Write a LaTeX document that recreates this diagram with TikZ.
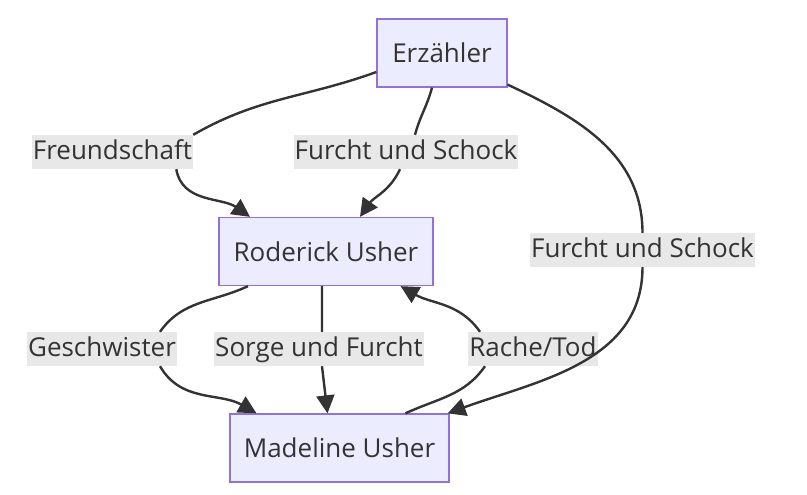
\documentclass[tikz,border=0pt]{standalone}
\usepackage{fontspec}
\setmainfont{Open Sans}
\usetikzlibrary{arrows.meta}
\definecolor{boxfill}{HTML}{ECECFF}
\definecolor{boxline}{HTML}{9370DB}
\definecolor{ink}{HTML}{333333}
\definecolor{lblfill}{HTML}{E8E8E8}

\begin{document}
\begin{tikzpicture}[x=1pt,y=1pt,
	font=\fontsize{26}{31}\selectfont,
	box/.style={rectangle, draw=boxline, fill=boxfill, line width=1.3pt, minimum height=68pt, text=ink},
	lbl/.style={fill=lblfill, text=ink, inner xsep=1pt, inner ysep=4pt, text height=20pt, text depth=6pt},
	line/.style={draw=ink, line width=2.4pt},
	flow/.style={line, -{Triangle[length=18pt,width=18pt]}}]
\useasboundingbox (0,0) rectangle (807,-495);
\node (erz) at (442,-53) [box, minimum width=130pt] {Erzähler};
\node (rod) at (326,-251.5) [box, minimum width=214pt] {Roderick Usher};
\node (mad) at (339.5,-448) [box, minimum width=219pt] {Madeline Usher};
	\node (freund) at (112.5,-152) [lbl] {Freundschaft};
	\node (furcht1) at (406,-152) [lbl] {Furcht und Schock};
	\node (furcht2) at (642.5,-250) [lbl] {Furcht und Schock};
	\node (geschw) at (102,-349) [lbl] {Geschwister};
	\node (sorge) at (319,-349) [lbl] {Sorge und Furcht};
	\node (rache) at (533,-349) [lbl] {Rache/Tod};
\draw[flow] ([yshift=-19pt]erz.west) to[out=200,in=30] (freund.north east)
	([xshift=-17pt]freund.south east) to[out=-80,in=145] ([xshift=-76pt]rod.north);
\draw[flow] ([xshift=-10pt]erz.south) to[out=-105,in=75] ([xshift=9pt]furcht1.north)
	([xshift=-6pt]furcht1.south) to[out=-115,in=55] ([xshift=34pt]rod.north);
\draw[flow] ([yshift=3pt]erz.south east) to[out=-25,in=90] (furcht2.north)
	(furcht2.south) to[out=-90,in=20] ([xshift=-2pt]mad.north east);
\draw[flow] ([xshift=-78pt]rod.south) to[out=205,in=55] ([xshift=58pt]geschw.north)
	([xshift=58pt]geschw.south) to[out=-60,in=150] ([xshift=-83pt]mad.north);
\draw[flow] ([xshift=-4pt]rod.south) -- ([xshift=3pt]sorge.north)
	([xshift=3pt]sorge.south) -- ([xshift=-12pt]mad.north);
\draw[flow] ([xshift=66pt]mad.north) to[out=25,in=-125] ([xshift=-48pt]rache.south)
	([xshift=-53pt]rache.north) to[out=125,in=-30] ([xshift=-33pt]rod.south east);
\end{tikzpicture}
\end{document}
